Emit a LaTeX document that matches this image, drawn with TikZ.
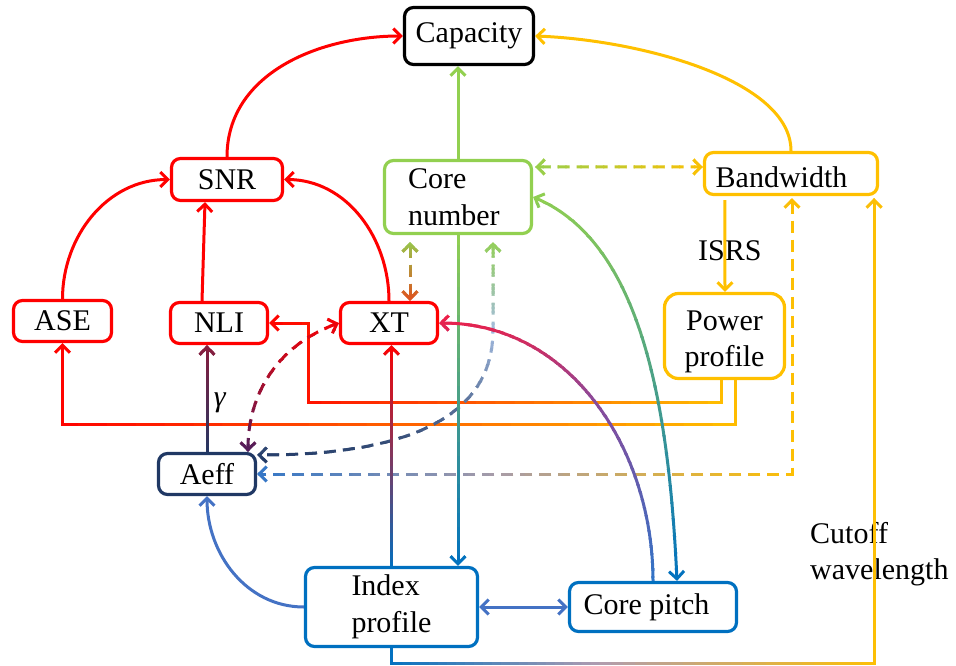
\documentclass[tikz,border=0pt]{standalone}
\usepackage{fontspec}
\setmainfont{Liberation Serif}
\usetikzlibrary{arrows.meta,calc}
\definecolor{cred}{HTML}{FF0000}
\definecolor{cred2}{HTML}{F01E46}
\definecolor{cgreen}{HTML}{92D050}
\definecolor{cyel}{HTML}{FFC000}
\definecolor{cnavy}{HTML}{203864}
\definecolor{cblue}{HTML}{0070C0}
\definecolor{cblueb}{HTML}{2E75C8}
\definecolor{cblue2}{HTML}{4472C4}
\definecolor{corg}{HTML}{E0501E}
\definecolor{cpurp}{HTML}{4B1F5E}
\definecolor{cpurp2}{HTML}{8A4A9A}
\definecolor{cdred}{HTML}{8C1C3C}
\definecolor{clblue}{HTML}{A4BCE0}
\definecolor{cmauve}{HTML}{A89CA8}
\definecolor{cmauve2}{HTML}{B09CB0}
% gradient along x: #1 x0, #2 x1, #3 colour at x0, #4 colour at x1, #5 options, #6 path
\newcommand{\gx}[6]{\foreach \k in {0,...,23}{%
  \pgfmathsetmacro\gA{(#1)+((#2)-(#1))/24*\k}%
  \pgfmathsetmacro\gB{(#1)+((#2)-(#1))/24*(\k+1)}%
  \pgfmathsetmacro\gLo{min(\gA,\gB)-0.6}%
  \pgfmathsetmacro\gHi{max(\gA,\gB)+0.6}%
  \pgfmathsetmacro\gPc{100/24*(\k+0.5)}%
  \begin{scope}\clip (\gLo,20) rectangle (\gHi,-700);
  \draw[#5,color=#4!\gPc!#3] #6;\end{scope}}}
% gradient along y
\newcommand{\gy}[6]{\foreach \k in {0,...,23}{%
  \pgfmathsetmacro\gA{(#1)+((#2)-(#1))/24*\k}%
  \pgfmathsetmacro\gB{(#1)+((#2)-(#1))/24*(\k+1)}%
  \pgfmathsetmacro\gLo{min(\gA,\gB)-0.6}%
  \pgfmathsetmacro\gHi{max(\gA,\gB)+0.6}%
  \pgfmathsetmacro\gPc{100/24*(\k+0.5)}%
  \begin{scope}\clip (-20,\gLo) rectangle (980,\gHi);
  \draw[#5,color=#4!\gPc!#3] #6;\end{scope}}}
\begin{document}
\begin{tikzpicture}[x=1pt,y=1pt,
  >={Straight Barb[length=7.5pt,width=15pt]},
  ln/.style={line width=3pt},
  dsh/.style={dash pattern=on 12pt off 7pt},
  box/.style={draw,line width=3.2pt,rounded corners=9pt,fill=white,inner sep=0pt,
    text=black,font=\fontsize{30}{36.5}\selectfont,align=center},
  lbl/.style={inner sep=0pt,text=black,font=\fontsize{30}{36.5}\selectfont}]
\useasboundingbox (0,0) rectangle (956,-666);

% labels
\node[lbl,anchor=west,align=left] (cut) at (810,-554) {Cutoff\\wavelength};
\node[lbl,anchor=base west] (isrs) at (698,-260) {ISRS};
\node[lbl] (gam) at (220,-403) {\textit{γ}};

% nodes
\node[box,draw=black,minimum width=129pt,minimum height=57pt] (cap) at (469,-36) {Capacity};
\node[box,draw=cred,minimum width=111pt,minimum height=42pt] (snr) at (227,-179.5) {SNR};
\node[box,draw=cgreen,minimum width=147pt,minimum height=73pt,text width=100pt,inner xsep=23.5pt,align=left] (cn) at (458,-197) {Core\\number};
\node[box,draw=cyel,minimum width=173pt,minimum height=42pt] (bw) at (791,-173.5) {\raisebox{-4pt}[\height][\depth]{Bandwidth}\hspace*{19pt}};
\node[box,draw=cred,minimum width=98pt,minimum height=41pt] (ase) at (62.5,-321) {ASE};
\node[box,draw=cred,minimum width=97pt,minimum height=41pt] (nli) at (219,-323) {NLI};
\node[box,draw=cred,minimum width=97pt,minimum height=41pt] (xt) at (389,-323) {XT};
\node[box,draw=cyel,rounded corners=14pt,minimum width=120pt,minimum height=85pt] (pp) at (724.5,-336) {\raisebox{-5pt}[\height][\depth]{\begin{tabular}{@{}c@{}}Power\\profile\end{tabular}}};
\node[box,draw=cnavy,minimum width=97pt,minimum height=41pt] (aeff) at (207,-474) {Aeff};
\node[box,draw=cblue,minimum width=172pt,minimum height=79pt,text width=80pt,inner xsep=46pt,align=left] (ip) at (391.5,-607) {Index\\profile};
\node[box,draw=cblue,minimum width=167pt,minimum height=49pt] (cp) at (653,-607) {Core pitch\hspace*{13pt}};

% solid single-colour connectors
\draw[ln,->,cred] (snr.north) to[out=90,in=180] (cap.west);
\draw[ln,->,cyel] (bw.north) .. controls +(0,71) and +(105,-4) .. (cap.east);
\draw[ln,->,cgreen] (cn.north) -- (cn.north |- cap.south);
\draw[ln,->,cred] (ase.north) to[out=90,in=180] (snr.west);
\draw[ln,->,cred] ($(nli.north)+(-17,0)$) -- ($(snr.south)+(-22,0)$);
\draw[ln,->,cred] (xt.north) to[out=90,in=0] (snr.east);
\draw[ln,->,cyel] ($(bw.south west)+(22,-4)$) -- ($(pp.north)+(0.5,0)$);
\draw[ln,->,cblue2] (ip.west) to[out=180,in=270] (aeff.south);
\draw[ln,<->,cblue2] (ip.east) -- (cp.west);

% gradient connectors
\gy{-238}{-303}{cgreen}{corg}{ln,dsh,<->}{($(cn.south)+(-48,-7)$) -- ($(xt.north)+(21,0)$)}
\gx{264}{728}{cred}{cyel}{ln,->}{($(pp.south)+(-3.5,0)$) |- ($(nli.east)+(39,-79)$) |- (nli.east)}
\gx{50}{742}{cred}{cyel}{ln,->}{($(pp.south)+(10.5,0)$) |- ($(ase.south)+(0,-81)$) -- (ase.south)}
\gy{-312}{-457}{cred}{cpurp}{ln,dsh,<->}{(xt.west) to[out=200,in=90] ($(aeff.north)+(41,0)$)}
\gy{-237}{-332}{cgreen}{clblue}{ln,dsh,<->}{($(cn.south)+(35,-7)$) -- ($(cn.south)+(35,-95)$) .. controls +(0,-100) and +(123,0) .. ($(aeff.east)+(0,19)$)}
\gy{-332}{-465}{clblue}{cnavy}{ln,dsh,<->}{($(cn.south)+(35,-7)$) -- ($(cn.south)+(35,-95)$) .. controls +(0,-100) and +(123,0) .. ($(aeff.east)+(0,19)$)}
\gx{248}{500}{cblueb}{cmauve}{ln,dsh,<->}{($(bw.south)+(1,-2)$) |- (aeff.east)}
\gx{500}{803}{cmauve}{cyel}{ln,dsh,<->}{($(bw.south)+(1,-2)$) |- (aeff.east)}
\gy{-232}{-570}{cgreen}{cblue}{ln,->}{(cn.south) -- (cn.south |- ip.north)}
\gy{-456}{-341}{cnavy}{cdred}{ln,->}{(aeff.north) -- (aeff.north |- nli.south)}
\gy{-570}{-341}{cblue}{cred}{ln,->}{(ip.north) -- (ip.north |- xt.south)}
\gy{-585}{-400}{cblueb}{cpurp2}{ln,->}{(cp.north) to[out=90,in=0] (xt.east)}
\gy{-400}{-313}{cpurp2}{cred2}{ln,->}{(cp.north) to[out=90,in=0] (xt.east)}
\gx{385}{600}{cblue}{cmauve2}{ln,->}{(ip.south) -- ++(0,-15) -| ($(bw.south east)+(-5,-2)$)}
\gx{600}{886}{cmauve2}{cyel}{ln,->}{(ip.south) -- ++(0,-15) -| ($(bw.south east)+(-5,-2)$)}
\gy{-187}{-586}{cgreen}{cblue}{ln,<->}{(cn.east) .. controls +(110,-47) and +(-8,170) .. ($(cp.north)+(24,0)$)}
\gx{528}{710}{cgreen}{cyel}{ln,dsh,<->}{($(cn.north east)+(2,-8)$) -- ($(bw.west)+(0,6.5)$)}
\end{tikzpicture}
\end{document}
